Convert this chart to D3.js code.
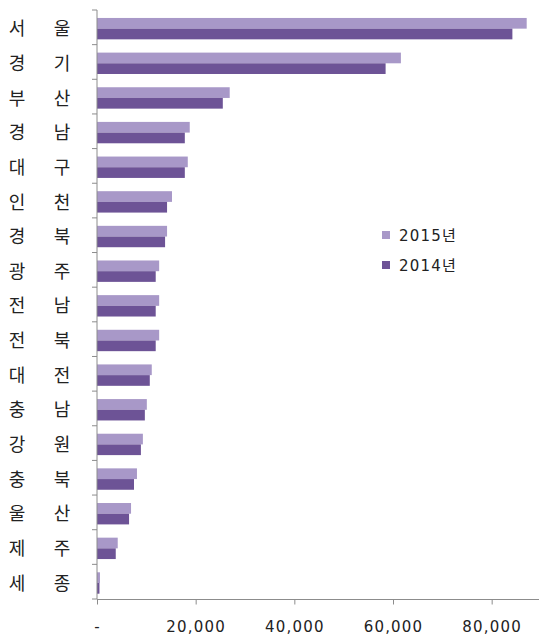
<!DOCTYPE html>
<html>
<head>
<meta charset="utf-8">
<script src="https://cdn.jsdelivr.net/npm/d3@7"></script>
<style>
html,body{margin:0;padding:0;background:#fff;}
svg{display:block;}
</style>
</head>
<body>
<svg id="chart" width="539" height="636"></svg>
<script>
const categories = ["서 울","경 기","부 산","경 남","대 구","인 천","경 북","광 주","전 남","전 북","대 전","충 남","강 원","충 북","울 산","제 주","세 종"];
const values2015 = [87100,61600,26900,18800,18400,15200,14200,12600,12600,12600,11100,10100,9300,8100,6900,4200,600];
const values2014 = [84200,58500,25500,17800,17800,14200,13800,11900,11900,11900,10700,9700,8900,7500,6500,3800,500];
const seriesNames = ["2015년","2014년"];
const seriesColors = ["#a898c8","#6d5396"];
const tickValues = [0,20000,40000,60000,80000];
const tickLabels = ["-","20,000","40,000","60,000","80,000"];

const svg = d3.select("#chart");
const fontFam = "'Noto Sans CJK KR','Noto Sans',sans-serif";

const x = d3.scaleLinear().domain([0, 90000]).range([97, 541]);
const y = d3.scaleBand().domain(categories).range([10, 599]).paddingInner(0).paddingOuter(0);
const inner = d3.scaleBand().domain(seriesNames).range([0, y.bandwidth()])
  .paddingOuter(0.62).paddingInner(0).align(0.6);

const data = categories.map((c, i) => ({cat: c, vals: [values2015[i], values2014[i]]}));

const g = svg.append("g");
const groups = g.selectAll("g.cat").data(data).join("g")
  .attr("transform", d => `translate(0,${y(d.cat)})`);
groups.selectAll("rect").data(d => d.vals.map((v, j) => ({v, s: seriesNames[j], c: seriesColors[j]})))
  .join("rect")
  .attr("x", x(0))
  .attr("y", d => inner(d.s))
  .attr("width", d => x(d.v) - x(0))
  .attr("height", inner.bandwidth())
  .attr("fill", d => d.c);

// y axis line and ticks (ticks at category boundaries)
const axisColor = "#8c8c8c";
g.append("line").attr("x1", x(0)).attr("x2", x(0)).attr("y1", 10).attr("y2", 599)
  .attr("stroke", axisColor).attr("stroke-width", 1);
const boundaries = categories.map(c => y(c)).concat([y.range()[1]]);
g.selectAll("line.ytick").data(boundaries).join("line")
  .attr("class", "ytick")
  .attr("x1", x(0) - 5).attr("x2", x(0))
  .attr("y1", d => d).attr("y2", d => d)
  .attr("stroke", axisColor);

// category labels (two syllables spaced)
const labelG = g.append("g");
data.forEach(d => {
  const parts = d.cat.split(" ");
  const cy = y(d.cat) + y.bandwidth() / 2 + 1.5;
  labelG.append("text").attr("x", 17).attr("y", cy).attr("dy", "0.36em")
    .attr("text-anchor", "middle").attr("font-family", fontFam).attr("font-size", 18)
    .attr("fill", "#222").text(parts[0]);
  labelG.append("text").attr("x", 62).attr("y", cy).attr("dy", "0.36em")
    .attr("text-anchor", "middle").attr("font-family", fontFam).attr("font-size", 18)
    .attr("fill", "#222").text(parts[1]);
});

// x axis
const xAxis = d3.axisBottom(x).tickValues(tickValues).tickSize(5).tickPadding(17)
  .tickFormat((d, i) => tickLabels[i]);
const xg = svg.append("g").attr("transform", "translate(0,599.5)").call(xAxis);
xg.select(".domain").attr("stroke", axisColor).attr("d", `M${x(0)},0H539`);
xg.selectAll(".tick line").attr("stroke", axisColor);
xg.selectAll(".tick text").attr("font-family", "'DejaVu Sans',sans-serif").attr("font-size", 15)
  .attr("letter-spacing", 1.2).attr("fill", "#222");

// legend
const leg = svg.append("g");
seriesNames.forEach((s, i) => {
  const ly = 235 + i * 30;
  leg.append("rect").attr("x", 382).attr("y", ly - 4).attr("width", 8).attr("height", 8).attr("fill", seriesColors[i]);
  leg.append("text").attr("x", 399).attr("y", ly).attr("dy", "0.4em")
    .attr("font-family", "'DejaVu Sans','Noto Sans CJK KR',sans-serif").attr("font-size", 15)
    .attr("letter-spacing", 1.2).attr("fill", "#222").text(s);
});
</script>
</body>
</html>
